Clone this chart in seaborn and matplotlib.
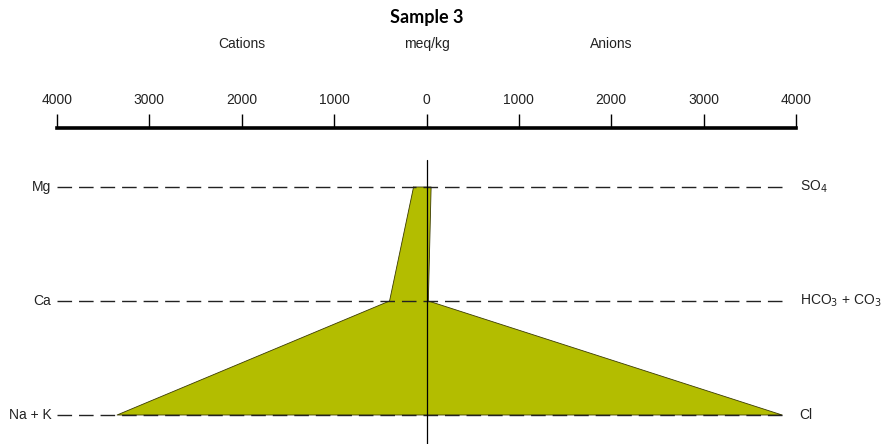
import matplotlib
matplotlib.use("Agg")
import matplotlib.pyplot as plt
import seaborn as sns
import numpy as np
import pandas as pd

# ---- data ----
cations = ["Mg", "Ca", "Na + K"]
cation_vals = [140, 400, 3350]          # meq/kg
anions = ["SO$_4$", "HCO$_3$ + CO$_3$", "Cl"]
anion_vals = [50, 20, 3850]             # meq/kg
tick_vals = [-4000, -3000, -2000, -1000, 0, 1000, 2000, 3000, 4000]
title = "Sample 3"

sns.set_theme(style="white")
plt.rcParams["font.family"] = ["Liberation Sans", "DejaVu Sans"]

W, H = 885, 444
fig = plt.figure(figsize=(W / 100, H / 100), dpi=100)

x0, x1 = 57, 796          # pixel positions of -4000 / +4000
ytop = 128                # pixel y of scale line
ax = fig.add_axes([x0 / W, 0, (x1 - x0) / W, (H - ytop) / H])

rows = np.arange(len(cations))
row_px = [187, 301, 415]
px_per_row = (row_px[-1] - row_px[0]) / (len(rows) - 1)
ylim_top = (ytop - row_px[0]) / px_per_row
ylim_bot = len(rows) - 1 + (H - row_px[-1]) / px_per_row
ax.set_xlim(-4000, 4000)
ax.set_ylim(ylim_bot, ylim_top)

# polygon: cations on the left (negative), anions on the right
poly = pd.DataFrame({
    "x": [-v for v in cation_vals] + [v for v in anion_vals[::-1]] + [-cation_vals[0]],
    "y": list(rows) + list(rows[::-1]) + [rows[0]],
})
ax.fill(poly["x"], poly["y"], color="#B3BD00", zorder=2, lw=0)
sns.lineplot(data=poly, x="x", y="y", sort=False, estimator=None,
             color="#3a3a00", lw=0.6, ax=ax, zorder=3)

# dashed guide lines
for r in rows:
    ax.plot([-4000, 3860], [r, r], color="#222222", lw=1.0,
            dashes=(10.5, 5.0), zorder=4)

# center vertical line
ax.plot([0, 0], [ylim_bot, (160 - row_px[0]) / px_per_row + rows[0]],
        color="black", lw=0.9, zorder=5)

# row labels
for r, c, a in zip(rows, cations, anions):
    ax.text(-4060, r, c, ha="right", va="center", fontsize=10, color="#222222")
    ax.text(4040, r, a, ha="left", va="center", fontsize=10, color="#222222")

# top scale
for s in ["bottom", "left", "right"]:
    ax.spines[s].set_visible(False)
ax.spines["top"].set_linewidth(2.6)
ax.spines["top"].set_color("black")
ax.xaxis.tick_top()
ax.set_xticks(tick_vals)
ax.set_xticklabels([str(abs(v)) for v in tick_vals], fontsize=10, color="#222222")
ax.tick_params(axis="x", top=True, bottom=False, direction="out", length=10,
               width=1, color="black", pad=5)
ax.set_yticks([])
ax.set_xlabel("")
ax.set_ylabel("")
ax.patch.set_alpha(0)

# headings
def xfig(v):
    return (x0 + (v + 4000) / 8000 * (x1 - x0)) / W

fig.text(xfig(0), 1 - 17 / H, title, ha="center", va="center",
         fontsize=13, fontweight="bold", color="black",
         family=["Lato", "DejaVu Sans"])
fig.text(xfig(-2000), 1 - 44 / H, "Cations", ha="center", va="center",
         fontsize=10, color="#222222")
fig.text(xfig(0), 1 - 44 / H, "meq/kg", ha="center", va="center",
         fontsize=10, color="#222222")
fig.text(xfig(2000), 1 - 44 / H, "Anions", ha="center", va="center",
         fontsize=10, color="#222222")

fig.savefig("out.png", dpi=100)
